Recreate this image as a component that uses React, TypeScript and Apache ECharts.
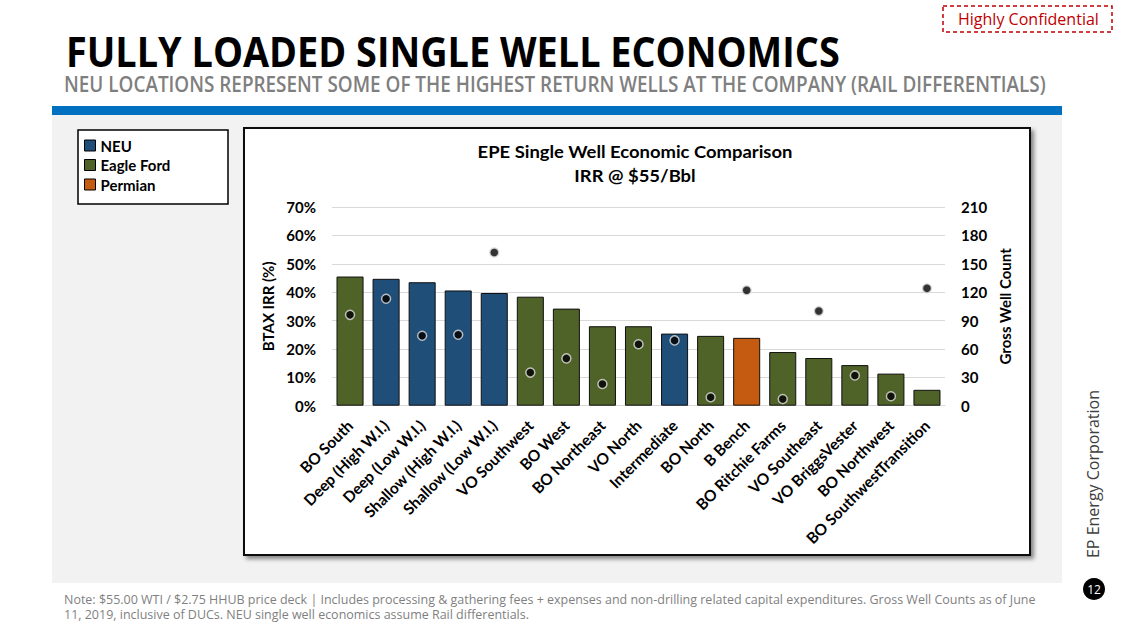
import React, { useEffect, useRef } from 'react';
import * as echarts from 'echarts';

const categories = [
  'BO South', 'Deep (High W.I.)', 'Deep (Low W.I.)', 'Shallow (High W.I.)', 'Shallow (Low W.I.)',
  'VO Southwest', 'BO West', 'BO Northeast', 'VO North', 'Intermediate', 'BO North', 'B Bench',
  'BO Ritchie Farms', 'VO Southeast', 'VO BriggsVester', 'BO Northwest', 'BO SouthwestTransition',
];
const basins = [
  'Eagle Ford', 'NEU', 'NEU', 'NEU', 'NEU', 'Eagle Ford', 'Eagle Ford', 'Eagle Ford', 'Eagle Ford',
  'NEU', 'Eagle Ford', 'Permian', 'Eagle Ford', 'Eagle Ford', 'Eagle Ford', 'Eagle Ford', 'Eagle Ford',
];
const irrPct = [45.5, 44.7, 43.5, 40.6, 39.7, 38.4, 34.2, 28.0, 28.0, 25.4, 24.6, 23.9, 18.9, 16.8, 14.3, 11.3, 5.6];
const wellCount = [96, 113, 74, 75, 162, 35, 50, 23, 65, 69, 9, 122, 7, 100, 32, 10, 124];
const basinNames = ['NEU', 'Eagle Ford', 'Permian'];
const basinColors = ['#1f4e79', '#4f6228', '#c55a11'];
const irrAxis = { min: 0, max: 70, interval: 10 };
const countAxis = { min: 0, max: 210, interval: 30 };

const titleText = 'FULLY LOADED SINGLE WELL ECONOMICS';
const subtitleText = 'NEU LOCATIONS REPRESENT SOME OF THE HIGHEST RETURN WELLS AT THE COMPANY (RAIL DIFFERENTIALS)';
const chartTitle1 = 'EPE Single Well Economic Comparison';
const chartTitle2 = 'IRR @ $55/Bbl';
const noteLine1 = 'Note: $55.00 WTI / $2.75 HHUB price deck | Includes processing & gathering fees + expenses and non-drilling related capital expenditures. Gross Well Counts as of June';
const noteLine2 = '11, 2019, inclusive of DUCs. NEU single well economics assume Rail differentials.';
const companyText = 'EP Energy Corporation';
const confidentialText = 'Highly Confidential';
const pageNumber = '12';

function fitScale(text: string, font: string, width: number): number {
  const ctx = document.createElement('canvas').getContext('2d');
  if (!ctx) return 1;
  ctx.font = font;
  const w = ctx.measureText(text).width;
  return w > 0 ? width / w : 1;
}

export default function App() {
  const ref = useRef<HTMLDivElement>(null);

  useEffect(() => {
    if (!ref.current) return;
    const chart = echarts.init(ref.current, undefined, { renderer: 'svg' });

    const OS = '"Open Sans", sans-serif';
    const LT = 'Lato, sans-serif';

    const sTitle = fitScale(titleText, `bold 41px ${OS}`, 774);
    const sSub = fitScale(subtitleText, `600 21px ${OS}`, 982);
    const sNote = fitScale(noteLine1, `normal 12.5px ${OS}`, 972);
    const sComp = fitScale(companyText, `normal 16px ${OS}`, 168);
    const sConf = fitScale(confidentialText, `normal 16px ${OS}`, 141);
    const sCt = fitScale(chartTitle1, `bold 16.5px ${LT}`, 315);

    const barSeries = basinNames.map((b, bi) => ({
      name: b,
      type: 'bar',
      stack: 'irr',
      barCategoryGap: '25%',
      itemStyle: { color: basinColors[bi], borderColor: '#111', borderWidth: 1 },
      data: irrPct.map((v, i) => (basins[i] === b ? v : null)),
      z: 2,
    }));

    const option: any = {
      animation: false,
      backgroundColor: '#ffffff',
      textStyle: { fontFamily: LT },
      legend: {
        orient: 'vertical',
        left: 84,
        top: 138,
        padding: 0,
        itemWidth: 11,
        itemHeight: 11,
        itemGap: 4.5,
        icon: 'rect',
        selectedMode: false,
        data: basinNames,
        itemStyle: { borderColor: '#000', borderWidth: 1 },
        textStyle: { fontFamily: LT, fontWeight: 'bold', fontSize: 15, color: '#000' },
      },
      grid: { left: 332, right: 183, top: 207, bottom: 229.3, containLabel: false },
      xAxis: {
        type: 'category',
        data: categories,
        axisTick: { show: false },
        axisLine: { lineStyle: { color: '#d9d9d9', width: 1 } },
        axisLabel: {
          rotate: 45,
          interval: 0,
          margin: 17,
          fontFamily: LT,
          fontWeight: 'bold',
          fontSize: 15.5,
          color: '#000',
        },
      },
      yAxis: [
        {
          type: 'value',
          min: irrAxis.min,
          max: irrAxis.max,
          interval: irrAxis.interval,
          name: 'BTAX IRR (%)',
          nameLocation: 'middle',
          nameRotate: 90,
          nameGap: 52,
          nameTextStyle: { fontFamily: LT, fontWeight: 'bold', fontSize: 15, color: '#000' },
          axisLine: { show: false },
          axisTick: { show: false },
          axisLabel: { formatter: '{value}%', margin: 16, fontFamily: LT, fontWeight: 'bold', fontSize: 15, color: '#000' },
          splitLine: { lineStyle: { color: '#d9d9d9', width: 1 } },
        },
        {
          type: 'value',
          min: countAxis.min,
          max: countAxis.max,
          interval: countAxis.interval,
          name: 'Gross Well Count',
          nameLocation: 'middle',
          nameRotate: 90,
          nameGap: 50,
          nameTextStyle: { fontFamily: LT, fontWeight: 'bold', fontSize: 15, color: '#000' },
          axisLine: { show: false },
          axisTick: { show: false },
          axisLabel: { margin: 16, fontFamily: LT, fontWeight: 'bold', fontSize: 15, color: '#000' },
          splitLine: { show: false },
        },
      ],
      series: [
        ...barSeries,
        {
          name: 'Gross Well Count',
          type: 'scatter',
          yAxisIndex: 1,
          symbol: 'circle',
          symbolSize: 9,
          itemStyle: { color: '#000', borderColor: '#e0e0e0', borderWidth: 1.5 },
          data: wellCount,
          z: 5,
        },
      ],
      graphic: [
        { type: 'rect', z: -20, silent: true, shape: { x: 52, y: 115, width: 1010, height: 468 }, style: { fill: '#f2f2f2' } },
        { type: 'rect', z: -20, silent: true, shape: { x: 52, y: 106, width: 1010, height: 9 }, style: { fill: '#0070c0' } },
        { type: 'rect', z: -10, silent: true, shape: { x: 78, y: 130, width: 150, height: 74 }, style: { fill: '#fff', stroke: '#000', lineWidth: 1.5 } },
        {
          type: 'rect', z: -10, silent: true,
          shape: { x: 244, y: 128, width: 786, height: 427 },
          style: { fill: '#fff', stroke: '#111', lineWidth: 2, shadowColor: 'rgba(0,0,0,0.45)', shadowBlur: 4, shadowOffsetX: 3, shadowOffsetY: 3 },
        },
        {
          type: 'text', x: 66, y: 51, scaleX: sTitle,
          style: { text: titleText, font: `bold 41px ${OS}`, fill: '#000', align: 'left', verticalAlign: 'middle' },
        },
        {
          type: 'text', x: 64, y: 84, scaleX: sSub,
          style: { text: subtitleText, font: `600 21px ${OS}`, fill: '#7f7f7f', align: 'left', verticalAlign: 'middle' },
        },
        {
          type: 'text', x: 635, y: 152, scaleX: sCt,
          style: { text: chartTitle1, font: `bold 16.5px ${LT}`, fill: '#000', align: 'center', verticalAlign: 'middle' },
        },
        {
          type: 'text', x: 635, y: 175.5, scaleX: sCt,
          style: { text: chartTitle2, font: `bold 16.5px ${LT}`, fill: '#000', align: 'center', verticalAlign: 'middle' },
        },
        {
          type: 'rect', silent: true, shape: { x: 943, y: 6, width: 169, height: 26 },
          style: { fill: 'none', stroke: '#c00000', lineWidth: 1.5, lineDash: [4, 3] },
        },
        {
          type: 'text', x: 958, y: 19, scaleX: sConf,
          style: { text: confidentialText, font: `normal 16px ${OS}`, fill: '#c00000', align: 'left', verticalAlign: 'middle' },
        },
        {
          type: 'text', x: 1093, y: 474, rotation: Math.PI / 2, scaleX: sComp,
          style: { text: companyText, font: `normal 16px ${OS}`, fill: '#404040', align: 'center', verticalAlign: 'middle' },
        },
        { type: 'circle', shape: { cx: 1094, cy: 589, r: 11 }, style: { fill: '#000' } },
        {
          type: 'text', x: 1094, y: 589,
          style: { text: pageNumber, font: `normal 12px ${OS}`, fill: '#fff', align: 'center', verticalAlign: 'middle' },
        },
        {
          type: 'text', x: 64, y: 599, scaleX: sNote,
          style: { text: noteLine1, font: `normal 12.5px ${OS}`, fill: '#7f7f7f', align: 'left', verticalAlign: 'middle' },
        },
        {
          type: 'text', x: 64, y: 614, scaleX: sNote,
          style: { text: noteLine2, font: `normal 12.5px ${OS}`, fill: '#7f7f7f', align: 'left', verticalAlign: 'middle' },
        },
      ],
    };

    chart.setOption(option);
    return () => chart.dispose();
  }, []);

  return <div ref={ref} style={{ position: 'absolute', left: 0, top: 0, width: 1128, height: 635 }} />;
}
